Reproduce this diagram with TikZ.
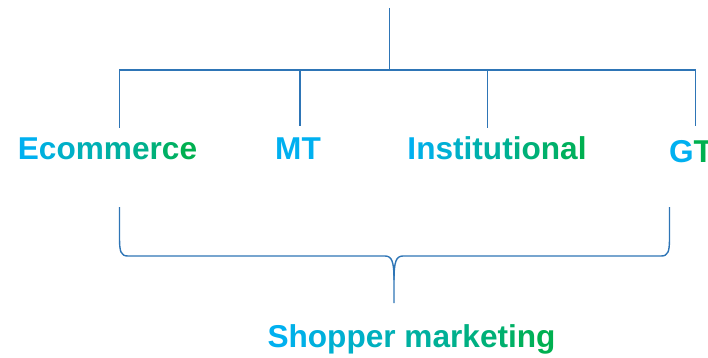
\documentclass[tikz,border=0pt]{standalone}
\usepackage{fontspec}
\setmainfont{Liberation Sans}
\definecolor{cb}{RGB}{0,176,240}
\definecolor{cg}{RGB}{0,176,80}
\definecolor{ln}{RGB}{46,117,182}
\newcommand\gl[2]{\textcolor{cg!#1!cb}{#2}}
\begin{document}
\begin{tikzpicture}[x=1pt,y=-1pt,
  lbl/.style={font=\fontsize{31.6}{36}\selectfont\bfseries, inner sep=0pt, anchor=base},
  conn/.style={draw=ln, line width=1.4pt}]
\useasboundingbox (0,0) rectangle (708,358);
\node[lbl] (ecom) at (107.5,159) {\gl{0}{E}\gl{12}{c}\gl{25}{o}\gl{37}{m}\gl{50}{m}\gl{62}{e}\gl{75}{r}\gl{87}{c}\gl{100}{e}};
\node[lbl] (mt) at (298,159) {\gl{0}{MT}};
\node[lbl] (inst) at (497,159) {\gl{0}{I}\gl{8}{n}\gl{17}{s}\gl{25}{t}\gl{33}{i}\gl{42}{t}\gl{50}{u}\gl{58}{t}\gl{67}{i}\gl{75}{o}\gl{83}{n}\gl{92}{a}\gl{100}{l}};
\node[lbl] (gt) at (691,162) {\gl{0}{G}\gl{100}{T}};
\node[lbl] (shop) at (411.5,347) {\gl{0}{S}\gl{6}{h}\gl{12}{o}\gl{19}{p}\gl{25}{p}\gl{31}{e}\gl{37}{r} \gl{50}{m}\gl{56}{a}\gl{62}{r}\gl{69}{k}\gl{75}{e}\gl{81}{t}\gl{87}{i}\gl{94}{n}\gl{100}{g}};
% tree connectors
\coordinate (top) at (389.5,8);
\coordinate (hub) at (389.5,70);
\coordinate (hl) at (119.5,70);
\coordinate (hr) at (695.5,70);
\coordinate (e1) at (119.5,128);
\coordinate (m1) at (300,126);
\coordinate (i1) at (487.5,128);
\coordinate (g1) at (695.5,126);
\draw[conn] (top) -- (hub);
\draw[conn] (e1) -- (hl) -- (hr) -- (g1);
\draw[conn] (m1) -- (m1 |- hl);
\draw[conn] (i1) -- (i1 |- hl);
% brace
\coordinate (bl) at (119.5,207);
\coordinate (br) at (669.5,207);
\coordinate (bt) at (394,303);
\draw[conn] (bl) -- (119.5,238) .. controls (119.5,252) and (121,256) .. (128,256)
  -- (385,256) .. controls (392,256) and (394,262) .. (394,280) -- (bt);
\draw[conn] (394,280) .. controls (394,262) and (396,256) .. (403,256)
  -- (661,256) .. controls (668,256) and (669.5,252) .. (669.5,238) -- (br);
\end{tikzpicture}
\end{document}
